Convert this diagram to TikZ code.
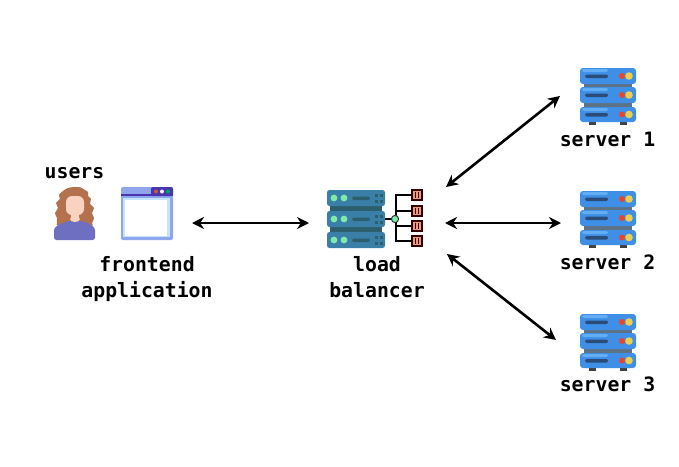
\documentclass[tikz,border=0pt]{standalone}
\usepackage{fontspec}
\setmonofont{DejaVu Sans Mono}
\usetikzlibrary{arrows.meta}
\definecolor{srvblue}{HTML}{3F8FE6}
\definecolor{srvlight}{HTML}{63ADF2}
\definecolor{srvgap}{HTML}{5E7286}
\definecolor{srvslot}{HTML}{2C4C78}
\definecolor{srvred}{HTML}{E8452C}
\definecolor{srvyel}{HTML}{E6CF52}
\definecolor{lbblue}{HTML}{3A7FA8}
\definecolor{lbgap}{HTML}{2B5F6E}
\definecolor{lbgreen}{HTML}{7FEBA8}
\definecolor{hair}{HTML}{B4714E}
\definecolor{skin}{HTML}{F9D3C0}
\definecolor{shirt}{HTML}{6E6FC0}
\definecolor{peri}{HTML}{8FA6EC}
\definecolor{paleblue}{HTML}{C4E4FB}
\definecolor{peridark}{HTML}{4A35B0}
\definecolor{salmon}{HTML}{E99A80}
\tikzset{
  x=1pt,y=-1pt,
  lbl/.style={font=\ttfamily\bfseries\fontsize{19.8}{19.8}\selectfont,anchor=base,inner sep=0pt,text=black},
  conn/.style={line width=2.6pt,{Stealth[length=12pt,width=12pt]}-{Stealth[length=12pt,width=12pt]}},
  srvrow/.style={fill=srvblue,rounded corners=3pt},
  server/.pic={
    \fill[srvgap] (-24,-14) rectangle (24,26);
    \fill[black!75] (-19,27) rectangle (-12,30);
    \fill[black!75] (12,27) rectangle (19,30);
    \foreach \y/\h in {-27/16,-8/16,12/15}{
      \fill[srvrow] (-28,\y) rectangle ++(56,\h);
      \fill[srvlight,rounded corners=2pt] (-26,\y+1) rectangle ++(26,3);
      \fill[srvslot,rounded corners=1.5pt] (-23,\y+\h/2-1.5) rectangle ++(23,3.5);
      \fill[srvred] (14,\y+\h/2) circle (3);
      \fill[srvyel] (21,\y+\h/2) circle (3.8);
    }
  },
  lbrow/.pic={
    \fill[lbblue,rounded corners=2.5pt] (0,0) rectangle (58,16);
    \fill[lbgreen] (7,8) circle (3.4);
    \fill[lbgreen] (17,8) circle (3.4);
    \fill[lbgap,rounded corners=1.5pt] (25,6.5) rectangle (43,10);
    \foreach \a in {48,53}{\fill[lbgap] (\a,4) rectangle ++(3,3);\fill[lbgap] (\a,9.5) rectangle ++(3,3);}
  },
  portbox/.pic={
    \fill[salmon,draw=black!80!red,line width=1.4pt] (0,-5) rectangle (10,5);
    \fill[black!75!red] (2.8,-3) rectangle (4.2,3);
    \fill[black!75!red] (5.8,-3) rectangle (7.2,3);
  }
}
\begin{document}
\begin{tikzpicture}
\useasboundingbox (0,0) rectangle (679,466);
\fill[white] (0,0) rectangle (679,466);
% user
\fill[hair] plot[smooth cycle,tension=0.6] coordinates {
  (75,187) (81,187.5) (85,190) (88,192) (88,196) (91,199) (90,204) (94,208) (92,213) (94,218) (92,223) (90,226)
  (60,226) (57,223) (57,218) (55,213) (58,208) (56,203) (60,199) (59,195) (63,191) (68,188)};
\fill[shirt,rounded corners=2.5pt] (54,240) -- (54,228) -- (60,224) -- (68,221) -- (82,221) -- (90,224) -- (95,228) -- (95,240) -- cycle;
\fill[skin] (71,212) rectangle (79,219);
\fill[skin] (75,219) ellipse (5 and 3);
\fill[skin,rounded corners=6pt] (66,196) rectangle (84,215);
% browser
\fill[peri,rounded corners=2pt] (121,187) rectangle (173,240);
\fill[peridark] (121,193.5) rectangle (173,196);
\fill[peridark,rounded corners=2pt] (151,187) rectangle (173,196);
\fill[hair!80!red] (156,191.5) circle (2);
\fill[white!85!peri] (162,191.5) circle (2);
\fill[teal!70!green] (168,191.5) circle (2);
\fill[paleblue] (123,198) rectangle (170,237);
\fill[white] (124.5,200) rectangle (167,235.5);
% load balancer
\fill[lbgap] (330,205) rectangle (382,232);
\pic at (327,190) {lbrow};
\pic at (327,211) {lbrow};
\pic at (327,232) {lbrow};
\draw[black,line width=1.4pt] (385,219) -- (396,219);
\draw[black,line width=1.4pt] (411,195) -- (396,195) -- (396,241) -- (411,241);
\draw[black,line width=1.4pt] (396,211) -- (411,211);
\draw[black,line width=1.4pt] (396,226) -- (411,226);
\fill[lbgreen,draw=black!80,line width=1pt] (395,219) circle (3.6);
\pic at (412,195) {portbox};
\pic at (412,211) {portbox};
\pic at (412,226) {portbox};
\pic at (412,241) {portbox};
% servers
\pic at (608,95) {server};
\pic at (608,218) {server};
\pic at (608,341) {server};
% labels
\node[lbl] (users) at (74.5,178) {users};
\node[lbl] (front1) at (147,271) {frontend};
\node[lbl] (front2) at (147,297) {application};
\node[lbl] (lb1) at (377,271) {load};
\node[lbl] (lb2) at (377,297) {balancer};
\node[lbl] (s1) at (607.5,146) {server 1};
\node[lbl] (s2) at (607.5,269) {server 2};
\node[lbl] (s3) at (607.5,391) {server 3};
% connector ends
\coordinate (feport) at (192,223);
\coordinate (lbin) at (309,223);
\coordinate (lbA) at (446,187);
\coordinate (lbB) at (445,223);
\coordinate (lbC) at (447,254);
\coordinate (srvA) at (560,96);
\coordinate (srvB) at (561,223);
\coordinate (srvC) at (556,340);
\draw[conn] (feport) -- (lbin);
\draw[conn] (lbA) -- (srvA);
\draw[conn] (lbB) -- (srvB);
\draw[conn] (lbC) -- (srvC);
\end{tikzpicture}
\end{document}
